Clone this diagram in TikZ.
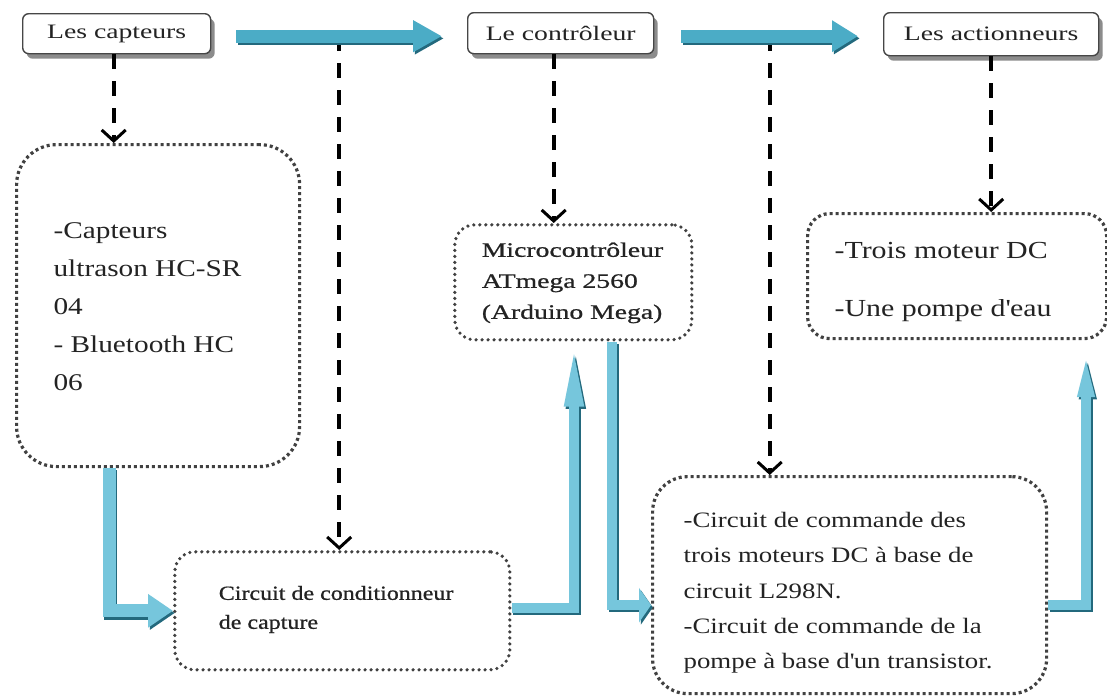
\documentclass[tikz,border=0pt]{standalone}
\usepackage{fontspec}
\setmainfont{Liberation Serif}
\newfontfamily\fA[FakeStretch=1.35]{Liberation Serif}
\newfontfamily\fM[FakeStretch=1.35,FakeBold=0.8]{Liberation Serif}
\newfontfamily\fB[FakeStretch=1.22]{Liberation Serif}
\newfontfamily\fC[FakeStretch=1.2,FakeBold=0.8]{Liberation Serif}
\usetikzlibrary{arrows.meta,calc,shadows}
\definecolor{txt}{RGB}{35,35,35}
\definecolor{dotc}{RGB}{65,65,65}
\definecolor{frame}{RGB}{70,70,70}
\definecolor{bA}{RGB}{75,172,198}
\definecolor{bL}{RGB}{118,198,220}
\definecolor{bD}{RGB}{35,105,125}
\newcommand\bx[6]{\parbox[t][#2][t]{#1}{\raggedright\leftskip=#3\relax\baselineskip=#5\relax\rule{0pt}{#4}#6}}
\begin{document}
\begin{tikzpicture}[x=1pt,y=-1pt,
 toplab/.style={draw=frame, line width=1.4pt, rounded corners=6pt, fill=white, anchor=north west, inner sep=0pt,
   font=\fA\fontsize{20.5pt}{24pt}\selectfont, text=txt,
   drop shadow={shadow xshift=4pt, shadow yshift=-5pt, fill=black!60, opacity=0.75}},
 sqdots/.style={draw=dotc, line width=3.2pt, dash pattern=on 3pt off 3pt, anchor=north west, inner sep=0pt, text=txt},
 rddots/.style={draw=dotc, line width=3.6pt, line cap=round, dash pattern=on 0pt off 6pt, anchor=north west, inner sep=0pt, text=txt},
 dasharrow/.style={draw=black, line width=4pt, dash pattern=on 15pt off 12pt, -{Straight Barb[length=11pt,width=24pt,line width=3pt]}},
 fat/.style={line width=#1, draw=bL},
 fatedge/.style={line width=#1, draw=bD, transform canvas={shift={(1.8pt,-2.2pt)}}}
]
\fill[white] (0,0) rectangle (1107,699);
\useasboundingbox (0,0) rectangle (1107,699);

% top labels
\node[toplab, minimum width=188pt, minimum height=40pt] (capt) at (22,13) {Les capteurs};
\node[toplab, minimum width=186pt, minimum height=41pt] (ctrl) at (467,12) {Le contrôleur};
\node[toplab, minimum width=215pt, minimum height=43pt] (act) at (883,12) {Les actionneurs};

% boxes
\node[sqdots, rounded corners=40pt, font=\fB\fontsize{24pt}{38pt}\selectfont] (cbox) at (15,143)
  {\bx{283pt}{322pt}{37pt}{94pt}{38pt}{-Capteurs\\ultrason HC-SR\\04\\- Bluetooth HC\\06}};
\node[rddots, rounded corners=20pt, font=\fM\fontsize{20.5pt}{31pt}\selectfont] (micro) at (453,223)
  {\bx{237pt}{115pt}{27pt}{32pt}{31pt}{Microcontrôleur\\ATmega 2560\\(Arduino Mega)}};
\node[sqdots, rounded corners=22pt, font=\fB\fontsize{24.5pt}{58pt}\selectfont] (abox) at (806,212)
  {\bx{299pt}{125pt}{27pt}{45pt}{58pt}{-Trois moteur DC\\-Une pompe d\textquotesingle eau}};
\node[rddots, rounded corners=20pt, font=\fC\fontsize{20pt}{29pt}\selectfont] (cond) at (173,550)
  {\bx{335pt}{118pt}{44pt}{48pt}{29pt}{Circuit de conditionneur\\de capture}};
\node[sqdots, rounded corners=35pt, font=\fB\fontsize{22pt}{35.3pt}\selectfont] (cmd) at (651,475)
  {\bx{394pt}{217pt}{31pt}{51pt}{35.3pt}{-Circuit de commande des\\trois moteurs DC à base de\\circuit L298N.\\-Circuit de commande de la\\pompe à base d\textquotesingle un transistor.}};

% helper coordinates
\coordinate (a1s) at ($(capt.east)+(25,2.5)$);
\coordinate (a1e) at ($(ctrl.west)+(-25,3)$);
\coordinate (a2s) at ($(ctrl.east)+(27,3)$);
\coordinate (a2e) at ($(act.west)+(-25,2)$);
\coordinate (m1) at ($(a1s)!0.5!(a1e)$);
\coordinate (m2) at ($(a2s)!0.5!(a2e)$);
\coordinate (d1) at ($(capt.south)+(-3,0)$);
\coordinate (d3) at ($(ctrl.south)+(-7,0)$);
\coordinate (b1) at ($(cbox.south west)+(94,0)$);
\coordinate (b2) at ($(cond.south east)+(0,-64)$);
\coordinate (b2e) at ($(micro.south west)+(121,0)$);
\coordinate (b3) at ($(micro.south west)+(159,0)$);
\coordinate (b3e) at ($(cmd.south west)+(0,-90)$);
\coordinate (b4) at ($(cmd.south east)+(0,-90)$);
\coordinate (b4e) at ($(abox.south west)+(280,0)$);

% dashed connectors
\draw[dasharrow] (d1) -- (d1 |- cbox.north);
\draw[dasharrow] (m1) -- (m1 |- cond.north);
\draw[dasharrow] (d3) -- (d3 |- micro.north);
\draw[dasharrow] (m2) -- (m2 |- cmd.north);
\draw[dasharrow] (act.south) -- (act.south |- abox.north);

% dark lower edges of the fat arrows
\draw[fatedge=13pt, -{Triangle[width=30pt,length=29pt]}] (a1s) -- (a1e);
\draw[fatedge=13pt, -{Triangle[width=30pt,length=26pt]}] (a2s) -- (a2e);
\draw[fatedge=13pt, -{Triangle[width=32pt,length=25pt]}] (b1) |- (cond.west);
\draw[fatedge=10pt, -{Triangle[width=17pt,length=65pt]}] (b2) -| (b2e);
\draw[fatedge=10pt, -{Triangle[width=34pt,length=12pt]}] (b3) |- (b3e);
\draw[fatedge=10pt, -{Triangle[width=14pt,length=57pt]}] (b4) -| (b4e);

% top fat arrows
\draw[fat=13pt, draw=bA, -{Triangle[width=30pt,length=29pt]}] (a1s) -- (a1e);
\draw[fat=13pt, draw=bA, -{Triangle[width=30pt,length=26pt]}] (a2s) -- (a2e);

% L-shaped fat arrows
\draw[fat=13pt, -{Triangle[width=32pt,length=25pt]}] (b1) |- (cond.west);
\draw[fat=10pt, -{Triangle[width=17pt,length=65pt]}] (b2) -| (b2e);
\draw[fat=10pt, -{Triangle[width=34pt,length=12pt]}] (b3) |- (b3e);
\draw[fat=10pt, -{Triangle[width=14pt,length=57pt]}] (b4) -| (b4e);
\end{tikzpicture}
\end{document}
